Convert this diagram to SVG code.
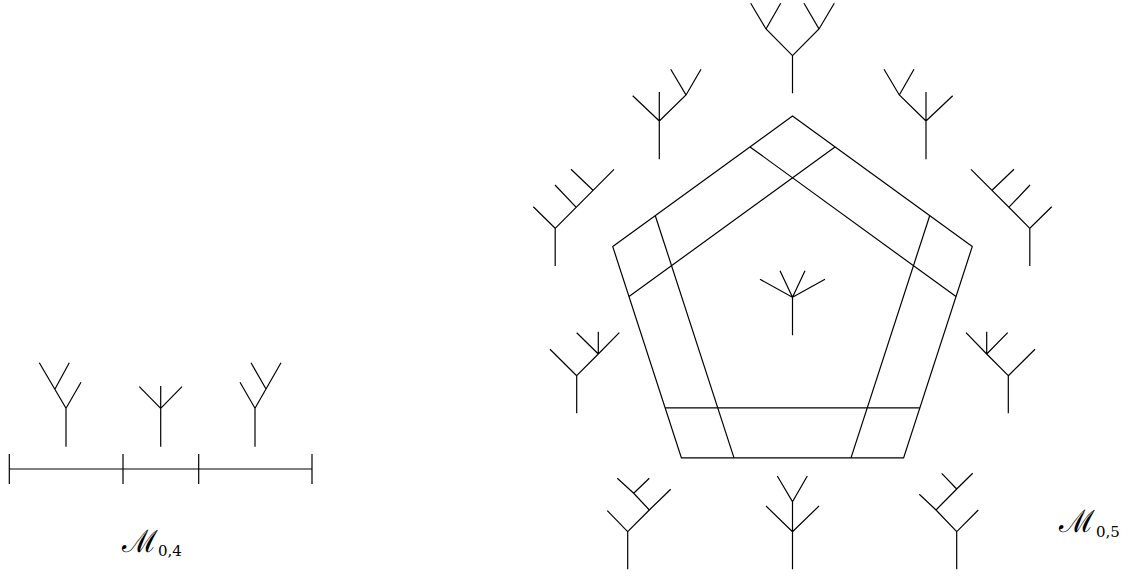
<svg xmlns="http://www.w3.org/2000/svg" width="1142" height="576" viewBox="0 0 1142 576">
<style>
path{fill:none;stroke:#000;stroke-width:1.2}
.m{font-family:"DejaVu Serif","Liberation Serif",serif;font-size:31px;fill:#000}
.s{font-size:15px}
</style>
<rect width="1142" height="576" fill="#fff"/>
<g id="interval">
<path d="M9.3 469H312M9.3 454V484M123 454V484M198.7 454V484M312 454V484"/>
</g>
<g id="treeA"><path d="M66 446.7V408.3L81 382.3M66 408.3L39.3 362.7M55 389L69.3 362.7"/></g>
<g id="treeB"><path d="M160.7 446.7V386M160.7 408.3L139.3 386.7M160.7 408.3L182 386.7"/></g>
<g id="treeC"><path d="M255 446.7V408.3L240 382.3M255 408.3L281 362.7M266 389L251 362.7"/></g>
<g id="label04"><text class="m" x="122" y="552">ℳ<tspan class="s" x="158" y="555.7">0,4</tspan></text></g>

<g id="pentagon">
<path d="M792.5 116L972.25 246.6L903.6 457.9H681.4L612.75 246.6Z"/>
<path d="M665.2 407.9H919.8M851 457.9L929.7 215.7M956 296.6L750 146.9M835 146.9L629 296.6M655.3 215.7L734 457.9"/>
</g>
<g id="treeCenter"><path d="M792.5 335.3V297.3L760 279.3M792.5 297.3L780 270.7M792.5 297.3L805 270.7M792.5 297.3L825 279.3"/></g>
<g id="treeTop"><path d="M792.5 93.3V55.7L766 29L750.7 3.3M766 29L780.7 3.3M792.5 55.7L819 29L804 3.3M819 29L834.3 3.3"/></g>
<g id="treeTopLeft"><path d="M659.3 159.3V92M659.3 121L632.7 95.7M659.3 121L686 95L670.7 69.3M686 95L701 69.3"/></g>
<g id="treeTopRight"><path d="M926 159.3V92M926 121L952.7 95.7M926 121L899.3 95L884 69.3M899.3 95L914 69.3"/></g>
<g id="treeLeftUp"><path d="M555.2 266V228.3L533.3 206.7M555.2 228.3L614 169.3M576 207.2L555 185M593 190.2L571 169.3"/></g>
<g id="treeRightUp"><path d="M1029.8 266V228.3L1051.7 206.7M1029.8 228.3L971 169.3M1009 207.2L1030 185M992 190.2L1014 169.3"/></g>
<g id="treeLeftLow"><path d="M576.7 413.3V375.7L550 349.3M576.7 375.7L598.3 354L619.3 332.7M598.3 354V331.7M598.3 354L576.7 332.7"/></g>
<g id="treeRightLow"><path d="M1008.3 413.3V375.7L1035 349.3M1008.3 375.7L986.7 354L966 332.7M986.7 354V331.7M986.7 354L1007.7 332.7"/></g>
<g id="treeBotLeft"><path d="M627.7 569.3V531.7L607.3 510.7M627.7 531.7L649.3 510L670.7 489.3M649.3 510L633.7 493.3L617.3 478.3M633.7 493.3L649.3 478.3"/></g>
<g id="treeBot"><path d="M792.5 569.3V501.7L777.3 476M792.5 501.7L807.3 476M792.5 531.7L766 506M792.5 531.7L819 506"/></g>
<g id="treeBotRight"><path d="M956.7 569.3V531.7L978.3 510M956.7 531.7L936 510L919.3 494.3M936 510L956.7 489L972.7 473.3M956.7 489L941.7 473.3"/></g>
<g id="label05"><text class="m" x="1059" y="532">ℳ<tspan class="s" x="1096" y="536.7">0,5</tspan></text></g>
</svg>
